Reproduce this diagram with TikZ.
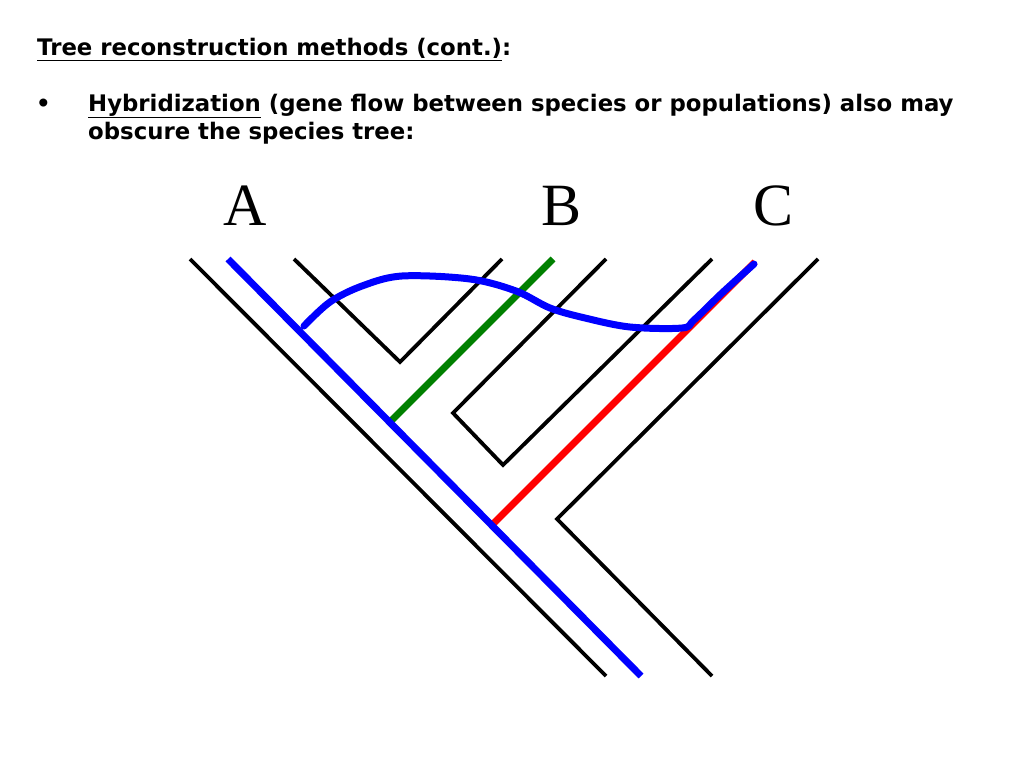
\documentclass[tikz,border=0pt]{standalone}
\usepackage{fontspec}
\setmainfont{DejaVu Sans}
\newfontfamily\taxonfont{Liberation Serif}
\usetikzlibrary{positioning}
\tikzset{
  heading/.style={anchor=base west, inner sep=0pt,
                  font=\bfseries\fontsize{22.8}{28}\selectfont},
  taxon/.style={anchor=base, inner sep=0pt,
                font=\taxonfont\fontsize{60}{60}\selectfont},
  branch/.style={draw=black, line width=3.8pt, line join=miter},
  lineage/.style={line width=7pt},
  flow/.style={draw=blue, line width=7pt, line cap=round, line join=round}
}

\begin{document}
\begin{tikzpicture}[x=1pt, y=-1pt]
\useasboundingbox (0,0) rectangle (1024,768);

% Heading + bullet text
\node[heading] (title) at (37,56) {\underline{Tree reconstruction methods (cont.)}:};
\node[heading] (bullet) at (36,111) {\textbullet};
\node[heading] (hybrid) at (88,111) {\underline{Hybridization} (gene flow between species or populations) also may};
\node[heading] (hybrid2) at (88,139) {obscure the species tree:};

% Taxon labels
\node[taxon] (labA) at (245,225) {A};
\node[taxon] (labB) at (562,225) {B};
\node[taxon] (labC) at (773,225) {C};

% Tree points
\coordinate (outerTop) at (190,259);
\coordinate (outerBot) at (606,676);
\coordinate (vLeft) at (294,259);
\coordinate (vTip) at (400,362);
\coordinate (vRight) at (502,259);
\coordinate (midTop) at (606,259);
\coordinate (midElbow) at (453,413);
\coordinate (midTip) at (503,465);
\coordinate (midRight) at (712,259);
\coordinate (rightTop) at (818,259);
\coordinate (rightElbow) at (557,519);
\coordinate (rightBot) at (712,676);

% Gene lineage points
\coordinate (geneTop) at (228,259);
\coordinate (geneBot) at (641,676);
\coordinate (greenTop) at (553,259);
\coordinate (greenFoot) at (391,421);
\coordinate (redTop) at (755,262);
\coordinate (redFoot) at (492,525);
\coordinate (flowStart) at (304,326);
\coordinate (flowEnd) at (754,264);

% --- Species tree ---
\draw[branch] (outerTop) -- (outerBot);
\draw[branch] (vLeft) -- (vTip) -- (vRight);
\draw[branch] (midTop) -- (midElbow) -- (midTip) -- (midRight);
\draw[branch] (rightTop) -- (rightElbow) -- (rightBot);

% --- Gene lineages ---
\draw[lineage, green!50!black] (greenTop) -- (greenFoot);
\draw[lineage, red] (redTop) -- (redFoot);
\draw[lineage, blue] (geneTop) -- (geneBot);

% Hybridization path
\draw[flow] plot[smooth, tension=0.55] coordinates {(flowStart) (330,302) (362,286)
  (402,276) (470,279) (516,291) (550,308) (585,318) (630,327) (682,328)
  (694,320) (722,293) (flowEnd)};

\end{tikzpicture}
\end{document}
